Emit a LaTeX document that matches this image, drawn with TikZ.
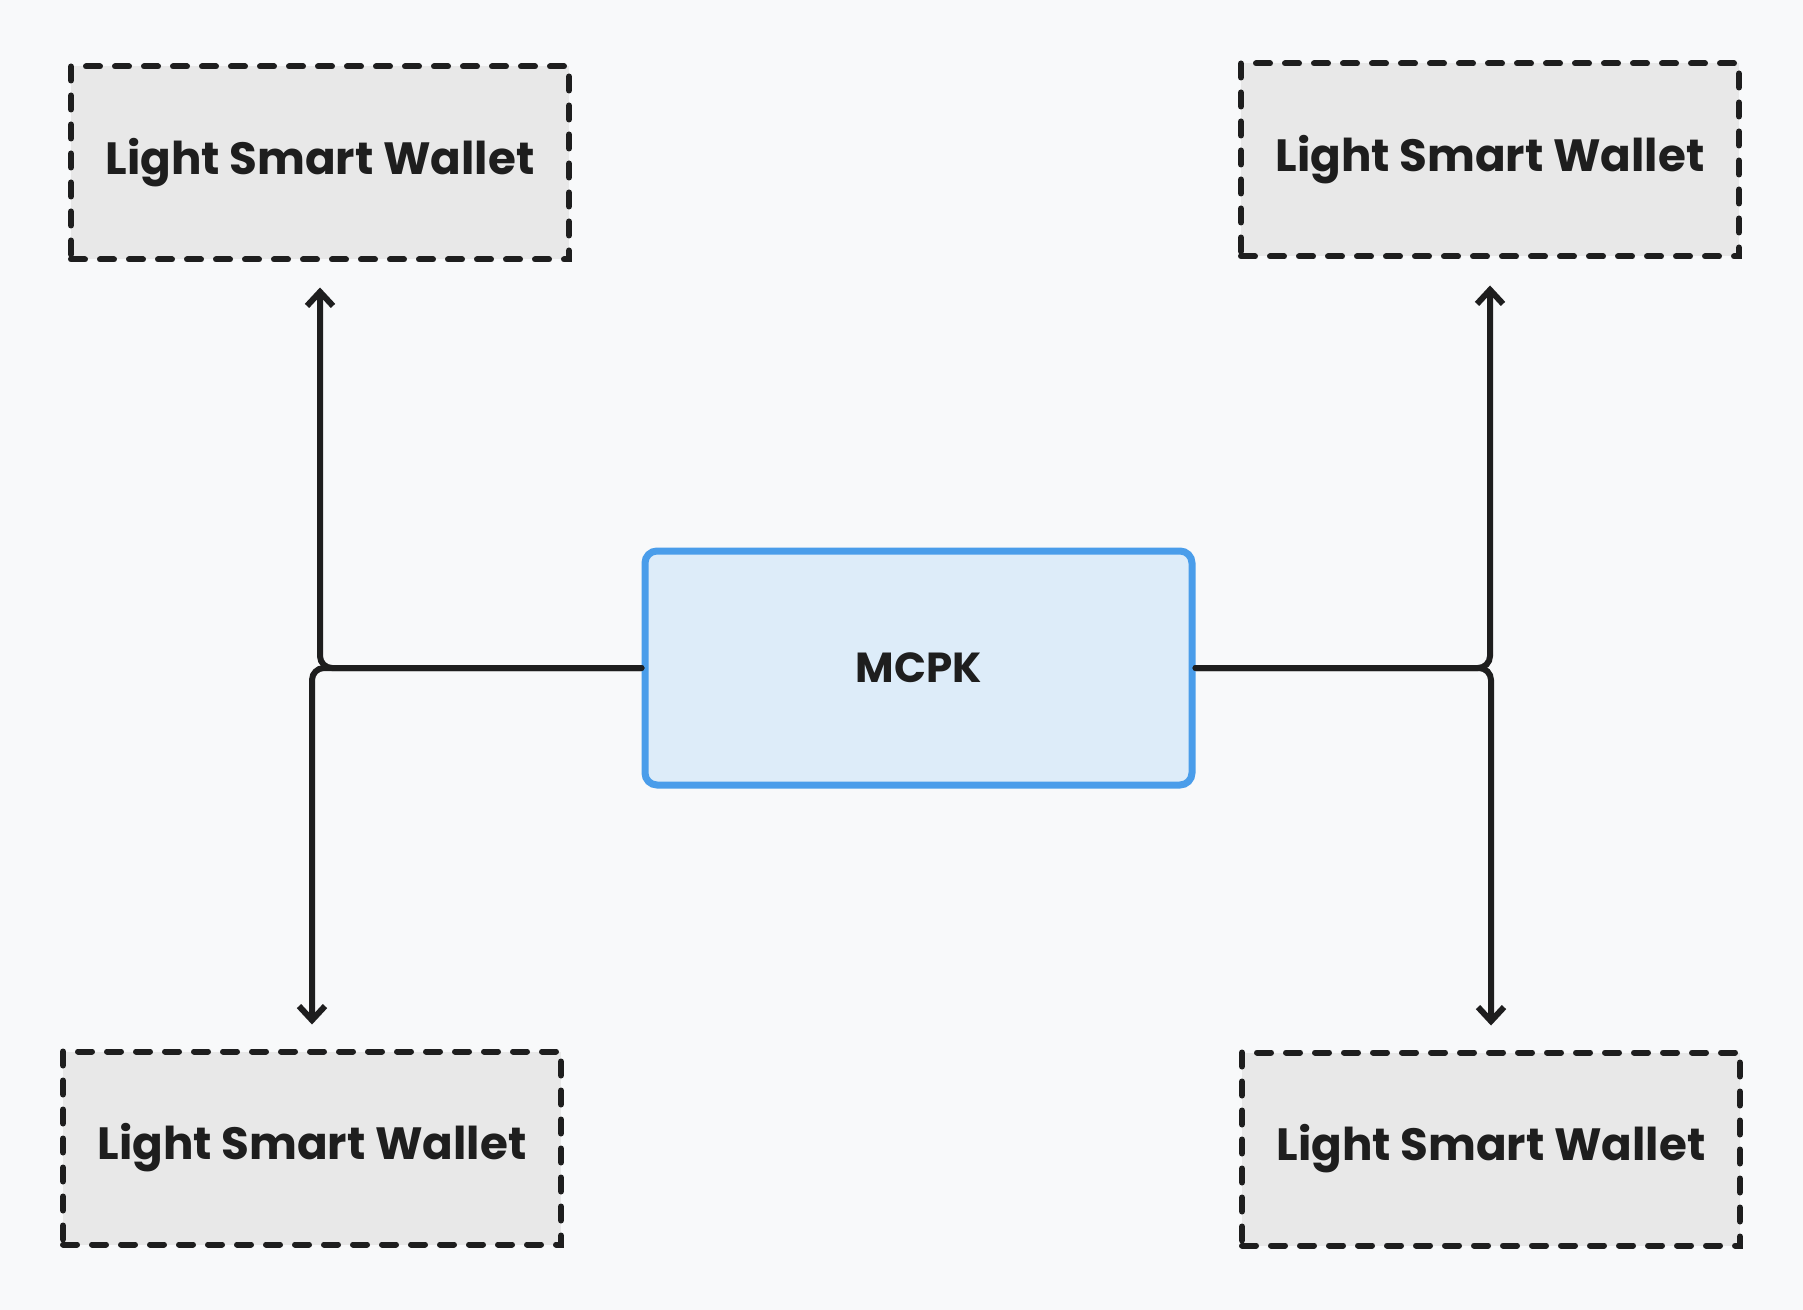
\documentclass[tikz,border=0pt]{standalone}
\usepackage{fontspec}
\setmainfont{Poppins}
\usetikzlibrary{arrows.meta}
\definecolor{bgc}{HTML}{F8F9FA}
\definecolor{inkc}{HTML}{1E1E1E}
\definecolor{grayfill}{HTML}{E8E8E8}
\definecolor{bluefill}{HTML}{DDECF9}
\definecolor{bluestroke}{HTML}{4A9DEA}
\tikzset{
  wallet/.style={draw=inkc, fill=grayfill, line width=3pt, dash pattern=on 7pt off 7.5pt, line cap=round,
    minimum width=249pt, minimum height=96.5pt, inner sep=0pt,
    font=\fontsize{22.6}{26}\selectfont\bfseries, text=inkc},
  hub/.style={draw=bluestroke, fill=bluefill, line width=3.5pt, rounded corners=6pt,
    minimum width=273.5pt, minimum height=117pt, inner sep=0pt,
    font=\fontsize{21}{25}\selectfont\bfseries, text=inkc},
  conn/.style={draw=inkc, line width=3pt, line cap=round, rounded corners=6pt,
    -{Straight Barb[length=7pt,width=13pt,line width=3pt]}}
}
\begin{document}
\begin{tikzpicture}[x=0.5pt,y=-0.5pt]
\fill[bgc] (0,0) rectangle (1803,1310);
\node[wallet] (tl) at (320,163) {Light Smart Wallet};
\node[wallet] (tr) at (1490,160) {Light Smart Wallet};
\node[wallet] (bl) at (312,1148) {Light Smart Wallet};
\node[wallet] (br) at (1491,1149) {Light Smart Wallet};
\node[hub] (c) at (918.5,668) {MCPK};
\draw[conn, shorten >=12.5pt] (c.west) -| (tl.south);
\draw[conn, shorten >=12pt] (c.west) -| (bl.north);
\draw[conn, shorten >=13pt] (c.east) -| (tr.south);
\draw[conn, shorten >=12pt] (c.east) -| (br.north);
\end{tikzpicture}
\end{document}
